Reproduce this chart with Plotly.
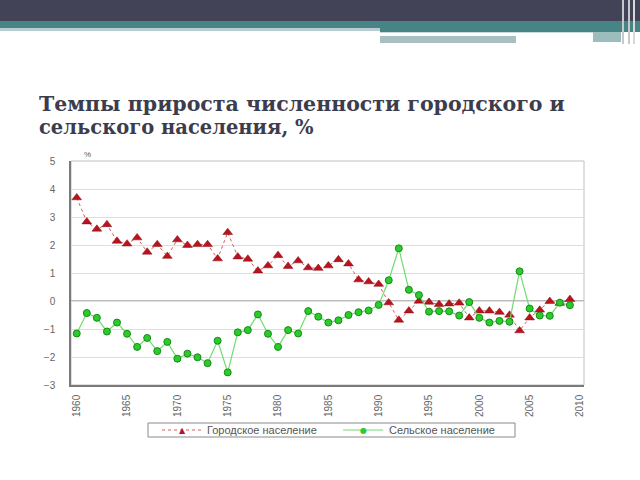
import plotly.graph_objects as go

years = list(range(1960, 2010))
urban = [3.69, 2.83, 2.57, 2.73, 2.14, 2.04, 2.26, 1.75, 2.02, 1.60,
         2.19, 1.99, 2.02, 2.02, 1.51, 2.45, 1.58, 1.50, 1.08, 1.26,
         1.63, 1.24, 1.44, 1.19, 1.17, 1.26, 1.48, 1.33, 0.76, 0.69,
         0.60, -0.06, -0.68, -0.35, 0.00, -0.04, -0.12, -0.10, -0.07, -0.60,
         -0.35, -0.35, -0.40, -0.50, -1.06, -0.60, -0.32, -0.01, -0.08, 0.06]
rural = [-1.16, -0.43, -0.60, -1.09, -0.77, -1.17, -1.64, -1.32, -1.79, -1.46,
         -2.06, -1.88, -2.01, -2.22, -1.42, -2.55, -1.12, -1.04, -0.48, -1.17,
         -1.64, -1.04, -1.16, -0.36, -0.56, -0.77, -0.69, -0.50, -0.40, -0.34,
         -0.14, 0.74, 1.88, 0.40, 0.21, -0.38, -0.36, -0.37, -0.52, -0.04,
         -0.60, -0.77, -0.71, -0.74, 1.06, -0.27, -0.52, -0.53, -0.06, -0.15]
xticks = list(range(1960, 2011, 5))
yticks = list(range(-3, 6))
title1 = "Темпы прироста численности городского и"
title2 = "сельского населения, %"
name_urban = "Городское население"
name_rural = "Сельское население"

RED_LINE, RED_MK, RED_EDGE = "#d9585e", "#b8141e", "#8a0d14"
GRN_LINE, GRN_MK, GRN_EDGE = "#6fdc6f", "#2ccb2c", "#168a16"

W, H = 640, 480
ML, MR, MT, MB = 71, 56, 161, 95
PW, PH = W - ML - MR, H - MT - MB


def px(x):
    return (x - ML) / PW


def py(y):
    return 1 - (y - MT) / PH


fig = go.Figure()
fig.add_trace(go.Scatter(
    x=years, y=urban, name=name_urban, mode="lines+markers",
    line=dict(color=RED_LINE, width=1, dash="dot"),
    marker=dict(symbol="triangle-up", size=8.5, color=RED_MK,
                line=dict(color=RED_EDGE, width=0.5)),
))
fig.add_trace(go.Scatter(
    x=years, y=rural, name=name_rural, mode="lines+markers",
    line=dict(color=GRN_LINE, width=1.2),
    marker=dict(symbol="circle", size=7, color=GRN_MK,
                line=dict(color=GRN_EDGE, width=1)),
))

shapes = []


def rect(x0, y0, x1, y1, color, line=None):
    shapes.append(dict(type="rect", xref="paper", yref="paper",
                       x0=px(x0), x1=px(x1), y0=py(y1), y1=py(y0),
                       fillcolor=color, line=line or dict(width=0), layer="below"))


def hline(x0, x1, y, color, width=1, dash="solid"):
    shapes.append(dict(type="line", xref="paper", yref="paper",
                       x0=px(x0), x1=px(x1), y0=py(y), y1=py(y),
                       line=dict(color=color, width=width, dash=dash), layer="above"))


# banner
rect(0, 0, 640, 21, "#434357")
rect(0, 21, 640, 28, "#478485")
rect(0, 28, 380, 31, "#b7cdd1")
rect(380, 28, 640, 32, "#478485")
rect(380, 32, 593, 33, "#c9dadc")
rect(380, 36, 516, 43, "#a9bfc2")
rect(593, 32, 621, 42, "#9dbcbe")
rect(622, 0, 624, 44, "#c8c8cc")
rect(628, 0, 630, 44, "#c8c8cc")
rect(633, 0, 635, 44, "#d8d8dc")

# plot border (light) and zero line
shapes.append(dict(type="rect", xref="paper", yref="paper", x0=0, x1=1, y0=0, y1=1,
                   line=dict(color="#c0c0c0", width=1), layer="below"))
shapes.append(dict(type="line", xref="paper", yref="y", x0=0, x1=1, y0=0, y1=0,
                   line=dict(color="#7a7a7a", width=1.2), layer="below"))

# legend box (drawn manually to match the compact original)
rect(148, 423, 515, 437, "white", line=dict(color="#8a8a8a", width=1))
hline(162, 201, 430, RED_LINE, 1, "dot")
hline(343, 383, 430, GRN_LINE, 1.2)

annotations = [
    dict(text=title1, xref="paper", yref="paper", x=px(37), y=py(118),
         xanchor="left", yanchor="bottom", showarrow=False,
         font=dict(family="DejaVu Serif", size=20.5, color="#3c3c4c", weight="bold")),
    dict(text=title2, xref="paper", yref="paper", x=px(37), y=py(141),
         xanchor="left", yanchor="bottom", showarrow=False,
         font=dict(family="DejaVu Serif", size=19.5, color="#3c3c4c", weight="bold")),
    dict(text="%", xref="paper", yref="paper", x=px(82), y=py(161),
         xanchor="left", yanchor="bottom", showarrow=False,
         font=dict(family="Liberation Sans", size=8, color="#555555")),
    dict(text="▲", xref="paper", yref="paper", x=px(182), y=py(430),
         xanchor="center", yanchor="middle", showarrow=False,
         font=dict(family="DejaVu Sans", size=8, color=RED_MK)),
    dict(text="●", xref="paper", yref="paper", x=px(363), y=py(430),
         xanchor="center", yanchor="middle", showarrow=False,
         font=dict(family="DejaVu Sans", size=8, color=GRN_MK)),
    dict(text=name_urban, xref="paper", yref="paper", x=px(205), y=py(430),
         xanchor="left", yanchor="middle", showarrow=False,
         font=dict(family="Liberation Sans", size=11, color="#555555")),
    dict(text=name_rural, xref="paper", yref="paper", x=px(387), y=py(430),
         xanchor="left", yanchor="middle", showarrow=False,
         font=dict(family="Liberation Sans", size=11, color="#555555")),
]

fig.update_layout(
    width=W, height=H,
    margin=dict(l=ML, r=MR, t=MT, b=MB),
    paper_bgcolor="white", plot_bgcolor="white",
    shapes=shapes,
    showlegend=False,
    xaxis=dict(range=[1959.43, 2010.4], tickvals=xticks, tickangle=-90,
               showgrid=False, zeroline=False, showline=True,
               linecolor="#7a7a7a", linewidth=1.5,
               tickfont=dict(family="Liberation Sans", size=10, color="#666666"),
               ticks="", ticklabelstandoff=4),
    yaxis=dict(range=[-3, 5], tickvals=yticks, showgrid=True,
               gridcolor="#dedede", gridwidth=1, zeroline=False,
               showline=True, linecolor="#7a7a7a", linewidth=1.5,
               tickfont=dict(family="Liberation Sans", size=10, color="#666666"),
               ticks="", ticklabelstandoff=12),
    annotations=annotations,
)

fig.write_html("out.html", config={"displayModeBar": False},
               post_script="document.body.style.margin='0';")
